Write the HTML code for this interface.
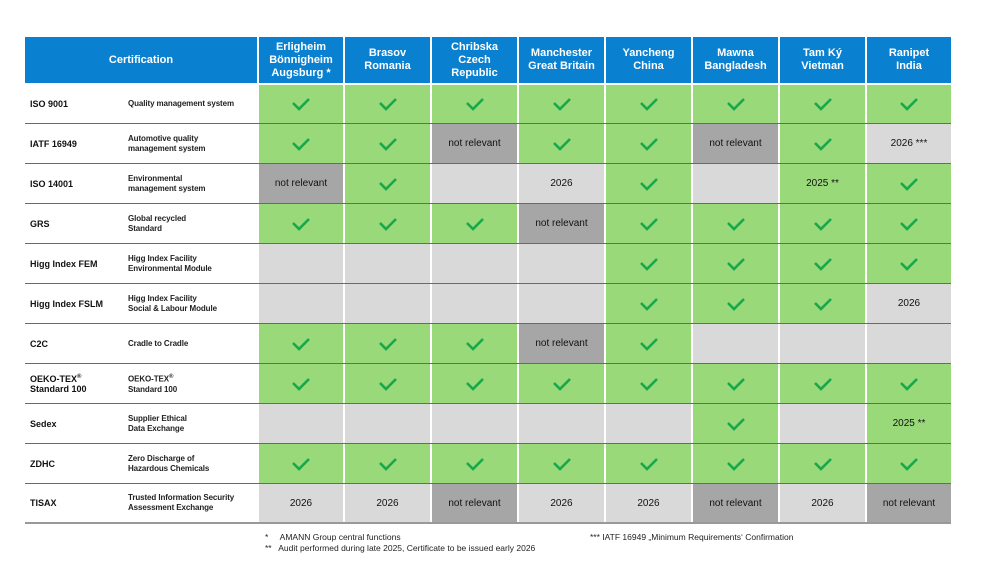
<!DOCTYPE html><html><head><meta charset="utf-8"><style>
body{margin:0;width:1000px;height:562px;background:#fff;font-family:"Liberation Sans",Arial,sans-serif;position:relative;overflow:hidden}
.hdr{position:absolute;left:25px;top:37px;height:46px;display:flex;width:926px}
.hdr div{background:#0a80d0;color:#fff;font-weight:bold;font-size:11px;line-height:13px;display:flex;align-items:center;justify-content:center;text-align:center;border-left:2px solid #fff;box-sizing:border-box}
.hdr div:first-child{border-left:none}
.rows{position:absolute;left:25px;top:85px;width:926px}
.r{display:flex;height:40px;border-bottom:1px solid #6a6a6a;box-sizing:border-box}
.r:first-child{height:39px}
.r:last-child{border-bottom:2px solid #999}
.r>div{border-left:2px solid #fff;box-sizing:border-box;display:flex;align-items:center;justify-content:center;font-size:10px;color:#111}
.r>.l{border-left:none;justify-content:flex-start;background:#fff}
.l b{width:98px;padding-left:5px;font-size:9px}
.l span{font-size:8px;font-weight:bold;color:#222;line-height:10px;letter-spacing:-0.1px}
.g{background:#99d97a}.x{background:#d9d9d9}.d{background:#a6a6a6}
.foot{position:absolute;font-size:8.5px;color:#222}
</style></head><body>
<div class="hdr">
<div style="width:232px">Certification</div>
<div style="width:86px">Erligheim<br>Bönnigheim<br>Augsburg *</div>
<div style="width:87px">Brasov<br>Romania</div>
<div style="width:87px">Chribska<br>Czech<br>Republic</div>
<div style="width:87px">Manchester<br>Great Britain</div>
<div style="width:87px">Yancheng<br>China</div>
<div style="width:87px">Mawna<br>Bangladesh</div>
<div style="width:87px">Tam Ký<br>Vietman</div>
<div style="width:86px">Ranipet<br>India</div>
</div>
<div class="rows" id="rows"></div>
<script>
var W=[86,87,87,87,87,87,87,86];
var ck='<svg width="20" height="14" viewBox="0 0 20 14"><polyline points="2,6 8,12 18,2" fill="none" stroke="#17a84a" stroke-width="2.6"/></svg>';
var D=[
["ISO 9001","Quality management system","CCCCCCCC"],
["IATF 16949","Automotive quality<br>management system","CCNCCNC3"],
["ISO 14001","Environmental<br>management system","NCLYCLZC"],
["GRS","Global recycled<br>Standard","CCCNCCCC"],
["Higg Index FEM","Higg Index Facility<br>Environmental Module","LLLLCCCC"],
["Higg Index FSLM","Higg Index Facility<br>Social &amp; Labour Module","LLLLCCCY"],
["C2C","Cradle to Cradle","CCCNCLLL"],
["OEKO-TEX<sup style='font-size:6px'>®</sup><br>Standard 100","OEKO-TEX<sup style='font-size:6px'>®</sup><br>Standard 100","CCCCCCCC"],
["Sedex","Supplier Ethical<br>Data Exchange","LLLLLCLZ"],
["ZDHC","Zero Discharge of<br>Hazardous Chemicals","CCCCCCCC"],
["TISAX","Trusted Information Security<br>Assessment Exchange","YYNYYNYN"]];
var h='';
D.forEach(function(r){h+='<div class="r"><div class="l" style="width:232px"><b>'+r[0]+'</b><span>'+r[1]+'</span></div>';
for(var i=0;i<8;i++){var c=r[2][i],cl,t='';
if(c=='C'){cl='g';t=ck}else if(c=='N'){cl='d';t='not relevant'}else if(c=='L'){cl='x'}else if(c=='Y'){cl='x';t='2026'}else if(c=='3'){cl='x';t='2026 ***'}else if(c=='Z'){cl='g';t='2025 **'}
h+='<div class="'+cl+'" style="width:'+W[i]+'px">'+t+'</div>';}
h+='</div>';});
document.getElementById('rows').innerHTML=h;
</script>
<div class="foot" style="left:265px;top:532px">*&nbsp;&nbsp;&nbsp;&nbsp; AMANN Group central functions</div>
<div class="foot" style="left:265px;top:543px">**&nbsp;&nbsp; Audit performed during late 2025, Certificate to be issued early 2026</div>
<div class="foot" style="left:590px;top:532px">*** IATF 16949 „Minimum Requirements‘ Confirmation</div>
</body></html>
